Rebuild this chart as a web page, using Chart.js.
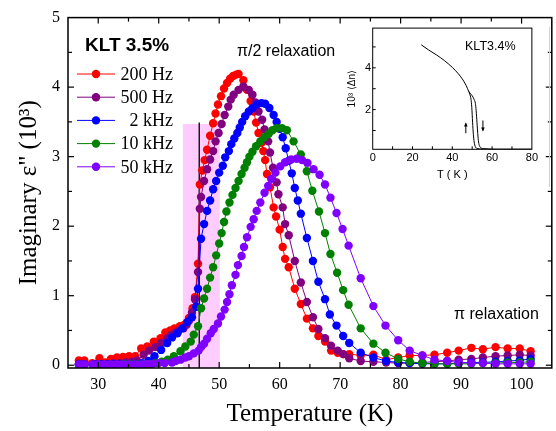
<!DOCTYPE html>
<html lang="en">
<head>
<meta charset="UTF-8" />
<title>KLT 3.5% dielectric loss</title>
<script src="https://cdn.jsdelivr.net/npm/chart.js"></script>
<style>
  body { margin: 0; background: #fff; }
  #wrap { position: relative; width: 556px; height: 431px; }
  #mainChart { position: absolute; left: 0; top: 0; }
  #insetChart { position: absolute; left: 340px; top: 20px; }
</style>
</head>
<body>
<div id="wrap">
  <canvas id="mainChart" width="556" height="431"></canvas>
  <canvas id="insetChart" width="200" height="165"></canvas>
</div>
<script>
  // ---- main panel: imaginary permittivity vs temperature ----
  const freqLabels = ['200 Hz', '500 Hz', '2 kHz', '10 kHz', '50 kHz'];
  const xTicks = [30, 40, 50, 60, 70, 80, 90, 100];
  const yTicks = [0, 1, 2, 3, 4, 5];

  const t200 = [26.8, 27.7, 29.0, 30.2, 31.2, 32.1, 33.1, 34.1, 35.1, 36.1,
                37.1, 38.1, 39.2, 40.3, 41.1, 41.9, 42.6, 43.5, 44.2, 45.0,
                45.6, 46.0, 46.5, 46.8, 47.2, 47.6, 48.0, 48.5, 49.0, 49.4,
                49.8, 50.3, 50.8, 51.3, 51.8, 52.3, 52.8, 53.2, 54.0, 54.6,
                55.2, 55.7, 56.1, 56.5, 57.0, 57.3, 57.6, 57.9, 58.4, 59.0,
                59.4, 60.0, 60.5, 60.9, 61.5, 62.5, 63.5, 64.5, 65.5, 66.4,
                67.5, 68.5, 69.6, 70.5, 71.5, 73.4, 75.5, 77.6, 79.6, 81.5,
                83.6, 85.6, 87.7, 89.6, 91.7, 93.6, 95.7, 97.7, 99.7, 101.5];
  const e200 = [0.07, 0.07, 0.03, 0.10, 0.04, 0.09, 0.11, 0.12, 0.13, 0.13,
                0.24, 0.27, 0.34, 0.39, 0.47, 0.50, 0.53, 0.56, 0.58, 0.68,
                0.82, 0.98, 1.46, 2.60, 2.80, 2.95, 3.10, 3.30, 3.48, 3.62,
                3.75, 3.87, 3.98, 4.06, 4.12, 4.16, 4.18, 4.19, 4.10, 3.96,
                3.80, 3.65, 3.49, 3.34, 3.20, 3.08, 2.95, 2.75, 2.56, 2.27,
                2.14, 1.95, 1.70, 1.53, 1.41, 1.10, 0.88, 0.67, 0.53, 0.42,
                0.34, 0.21, 0.18, 0.16, 0.16, 0.14, 0.15, 0.08, 0.11, 0.14,
                0.14, 0.15, 0.18, 0.21, 0.25, 0.23, 0.26, 0.24, 0.24, 0.20];

  const t500 = [26.8, 27.7, 29.5, 30.5, 31.5, 32.5, 33.5, 34.5, 35.5, 36.4,
                37.5, 38.4, 39.4, 40.4, 41.4, 42.0, 42.6, 43.2, 44.1, 44.6,
                45.0, 45.5, 46.0, 46.5, 46.8, 47.0, 47.5, 48.0, 48.5, 49.0,
                49.4, 49.9, 50.4, 50.9, 51.5, 51.9, 52.4, 53.2, 54.0, 54.9,
                55.5, 56.0, 56.5, 57.1, 57.5, 58.1, 58.4, 58.9, 59.5, 59.8,
                60.5, 60.9, 61.5, 62.5, 63.5, 64.5, 65.5, 66.4, 67.5, 68.5,
                69.6, 70.5, 71.5, 73.4, 75.5, 77.6, 79.6, 81.5, 83.6, 85.6,
                87.7, 89.6, 91.7, 93.6, 95.7, 97.7, 99.7, 101.5];
  const e500 = [0.02, 0.02, 0.02, 0.02, 0.02, 0.03, 0.03, 0.04, 0.05, 0.07,
                0.15, 0.21, 0.26, 0.32, 0.39, 0.43, 0.46, 0.49, 0.53, 0.58,
                0.64, 0.76, 0.95, 1.34, 2.25, 2.42, 2.65, 2.82, 2.96, 3.08,
                3.22, 3.34, 3.47, 3.60, 3.72, 3.82, 3.89, 3.96, 4.01, 3.96,
                3.89, 3.78, 3.65, 3.53, 3.39, 3.22, 3.06, 2.84, 2.63, 2.46,
                2.27, 2.03, 1.87, 1.50, 1.19, 0.91, 0.69, 0.52, 0.39, 0.28,
                0.21, 0.16, 0.10, 0.06, 0.05, 0.04, 0.03, 0.03, 0.04, 0.05,
                0.06, 0.08, 0.09, 0.11, 0.13, 0.14, 0.15, 0.14];

  const t2k = [26.8, 27.7, 29.5, 30.5, 31.5, 32.5, 33.5, 34.5, 35.5, 36.5,
               37.3, 38.3, 39.3, 40.4, 41.4, 42.2, 43.1, 43.9, 44.7, 45.5,
               46.2, 46.5, 47.0, 47.5, 48.0, 48.5, 49.0, 49.5, 50.0, 50.6,
               51.0, 51.6, 52.0, 52.5, 53.0, 53.4, 53.8, 54.3, 54.9, 55.5,
               56.2, 57.0, 57.6, 58.3, 59.0, 59.5, 60.0, 60.5, 61.0, 61.5,
               62.0, 62.5, 63.0, 63.5, 64.5, 65.5, 66.4, 67.5, 68.3, 69.4,
               70.5, 71.5, 73.4, 75.5, 77.6, 79.6, 81.5, 83.6, 85.6, 87.7,
               89.6, 91.7, 93.6, 95.7, 97.7, 99.7, 101.5];
  const e2k = [0.01, 0.01, 0.01, 0.01, 0.01, 0.01, 0.01, 0.01, 0.01, 0.02,
               0.03, 0.06, 0.13, 0.22, 0.32, 0.40, 0.46, 0.53, 0.62, 0.69,
               0.84, 1.10, 1.82, 2.03, 2.22, 2.37, 2.53, 2.65, 2.77, 2.87,
               2.99, 3.08, 3.18, 3.26, 3.34, 3.42, 3.50, 3.58, 3.65, 3.70,
               3.75, 3.77, 3.76, 3.70, 3.60, 3.50, 3.40, 3.28, 3.12, 2.94,
               2.76, 2.55, 2.37, 2.18, 1.83, 1.50, 1.20, 0.95, 0.73, 0.57,
               0.42, 0.32, 0.18, 0.11, 0.06, 0.04, 0.03, 0.02, 0.02, 0.02,
               0.03, 0.04, 0.04, 0.05, 0.06, 0.07, 0.09];

  const t10k = [26.8, 27.7, 29.5, 30.5, 31.5, 32.5, 33.5, 34.5, 35.5, 36.5,
                37.5, 38.5, 39.5, 40.5, 41.5, 42.5, 43.6, 44.4, 45.3, 45.8,
                46.5, 47.0, 47.5, 48.0, 48.5, 49.0, 49.5, 50.0, 50.4, 50.8,
                51.2, 51.7, 52.2, 52.7, 53.2, 53.7, 54.2, 54.6, 55.0, 55.5,
                56.1, 56.8, 57.5, 58.2, 58.8, 59.5, 60.4, 61.2, 62.3, 63.5,
                64.5, 65.4, 66.5, 67.5, 68.4, 69.5, 70.5, 71.4, 73.4, 75.5,
                77.5, 79.6, 81.5, 83.6, 85.6, 87.7, 89.6, 91.7, 93.6, 95.7,
                97.7, 99.7, 101.5];
  const e10k = [0.00, 0.00, 0.00, 0.00, 0.00, 0.00, 0.00, 0.01, 0.01, 0.01,
                0.01, 0.02, 0.03, 0.05, 0.08, 0.13, 0.20, 0.27, 0.34, 0.44,
                0.56, 0.82, 0.96, 1.10, 1.26, 1.41, 1.58, 1.75, 1.90, 2.06,
                2.21, 2.34, 2.45, 2.55, 2.65, 2.75, 2.84, 2.92, 3.00, 3.07,
                3.15, 3.22, 3.28, 3.33, 3.38, 3.41, 3.41, 3.38, 3.22, 3.03,
                2.79, 2.51, 2.21, 1.90, 1.60, 1.33, 1.08, 0.87, 0.53, 0.31,
                0.18, 0.09, 0.05, 0.03, 0.02, 0.02, 0.02, 0.02, 0.03, 0.03,
                0.04, 0.04, 0.05];

  const t50k = [26.8, 27.7, 29.0, 30.0, 31.0, 32.0, 33.0, 34.0, 35.0, 36.0,
                37.0, 38.0, 39.0, 40.0, 41.0, 42.2, 42.8, 43.6, 44.4, 45.0,
                45.8, 46.6, 47.0, 47.5, 48.0, 48.6, 49.1, 49.8, 50.3, 50.9,
                51.3, 51.7, 52.1, 52.7, 53.1, 53.7, 54.1, 54.6, 55.2, 55.7,
                56.2, 56.8, 57.5, 58.1, 58.6, 59.3, 60.1, 60.9, 61.9, 62.8,
                63.7, 64.6, 65.6, 66.6, 67.5, 68.4, 69.4, 70.4, 71.4, 73.4,
                75.5, 77.5, 79.6, 81.5, 83.6, 85.6, 87.7, 89.6, 91.7, 93.6,
                95.7, 97.7, 99.7, 101.5];
  const e50k = [0.01, 0.01, 0.01, 0.01, 0.01, 0.01, 0.01, 0.01, 0.01, 0.01,
                0.01, 0.02, 0.02, 0.03, 0.03, 0.04, 0.06, 0.08, 0.11, 0.13,
                0.17, 0.21, 0.26, 0.31, 0.38, 0.46, 0.52, 0.60, 0.70, 0.80,
                0.91, 1.02, 1.15, 1.30, 1.44, 1.57, 1.70, 1.84, 1.99, 2.10,
                2.22, 2.34, 2.48, 2.58, 2.68, 2.77, 2.86, 2.92, 2.96, 2.97,
                2.95, 2.91, 2.82, 2.74, 2.60, 2.41, 2.19, 1.96, 1.72, 1.25,
                0.85, 0.57, 0.36, 0.21, 0.14, 0.08, 0.06, 0.04, 0.03, 0.03,
                0.02, 0.02, 0.02, 0.02];

  // ---- inset: birefringence of KLT3.4% ----
  const insetXTicks = [0, 20, 40, 60, 80];
  const insetYTicks = [2, 4];
  const tCool = [24.4, 28, 32, 36, 40, 43, 45, 47, 48.2, 48.8, 49.4, 49.8, 50.2, 50.6, 51.0, 51.6, 52.5, 55, 60, 70, 80];
  const nCool = [5.10, 4.86, 4.62, 4.35, 4.02, 3.72, 3.47, 3.15, 2.88, 2.74, 2.50, 2.10, 1.40, 0.80, 0.45, 0.22, 0.14, 0.11, 0.10, 0.10, 0.10];
  const tHeat = [48.2, 49.0, 50.0, 51.0, 51.6, 52.0, 52.4, 52.8, 53.2, 53.7, 54.4, 56, 58, 62, 80];
  const nHeat = [2.88, 2.78, 2.66, 2.48, 2.30, 1.95, 1.40, 0.85, 0.45, 0.26, 0.17, 0.13, 0.11, 0.10, 0.10];

  const colors = ['#ff0000', '#800080', '#0000ff', '#008000', '#8000ff'];
  const serif = "'Liberation Serif', 'Times New Roman', serif";
  const sans = "'Liberation Sans', Arial, sans-serif";

  const temps = [t200, t500, t2k, t10k, t50k];
  const eps = [e200, e500, e2k, e10k, e50k];

  const datasets = freqLabels.map((label, i) => ({
    label,
    data: temps[i].map((t, j) => ({ x: t, y: eps[i][j] })),
    borderColor: colors[i],
    backgroundColor: colors[i],
    borderWidth: 1,
    pointRadius: 4.2,
    pointBorderWidth: 0,
    showLine: true,
    order: freqLabels.length - i   // higher frequency drawn on top
  }));

  function seg(ctx, x0, y0, x1, y1) {
    ctx.beginPath(); ctx.moveTo(x0, y0); ctx.lineTo(x1, y1); ctx.stroke();
  }

  const mainDecor = {
    id: 'mainDecor',
    beforeDatasetsDraw(chart) {
      const { ctx, chartArea: a, scales: { x, y } } = chart;
      ctx.save();
      // shaded transition band
      const bx0 = x.getPixelForValue(44.0), bx1 = x.getPixelForValue(50.1);
      const by = y.getPixelForValue(3.47);
      ctx.fillStyle = '#ffccff';
      ctx.fillRect(bx0, by, bx1 - bx0, a.bottom - by);
      // vertical marker
      ctx.strokeStyle = '#000'; ctx.lineWidth = 1.3;
      const mx = x.getPixelForValue(46.7);
      seg(ctx, mx, a.bottom, mx, y.getPixelForValue(3.49));
      ctx.restore();
    },
    afterDraw(chart) {
      const { ctx, chartArea: a, scales: { x, y } } = chart;
      ctx.save();
      ctx.strokeStyle = '#000';
      ctx.lineWidth = 1.5;
      ctx.strokeRect(a.left, a.top, a.right - a.left, a.bottom - a.top);
      ctx.lineWidth = 1.2;
      for (let t = 30; t <= 100; t += 5) {
        const px = x.getPixelForValue(t), len = t % 10 === 0 ? 6 : 4;
        seg(ctx, px, a.bottom, px, a.bottom - len);
        seg(ctx, px, a.top, px, a.top + len);
      }
      for (let v = 0.5; v < 5; v += 0.5) {
        const py = y.getPixelForValue(v), len = v % 1 === 0 ? 6 : 4;
        seg(ctx, a.left, py, a.left + len, py);
        seg(ctx, a.right, py, a.right - len, py);
      }
      const p0 = y.getPixelForValue(0);
      seg(ctx, a.left, p0, a.left + 6, p0);
      seg(ctx, a.right, p0, a.right - 6, p0);

      // faint line at the right
      ctx.strokeStyle = '#cfcfe6'; ctx.lineWidth = 1;
      seg(ctx, 549.5, 27, 549.5, 187);

      // legend
      ctx.fillStyle = '#000';
      ctx.font = 'bold 19px ' + sans;
      ctx.textAlign = 'left'; ctx.textBaseline = 'middle';
      ctx.fillText('KLT 3.5%', 85, 46);
      ctx.font = '18px ' + serif;
      ctx.textAlign = 'right';
      freqLabels.forEach((lab, i) => {
        const ry = 74 + i * 23.2;
        ctx.strokeStyle = colors[i]; ctx.lineWidth = 1;
        seg(ctx, 77, ry, 115, ry);
        ctx.fillStyle = colors[i];
        ctx.beginPath(); ctx.arc(96, ry, 4.2, 0, Math.PI * 2); ctx.fill();
        ctx.fillStyle = '#000';
        ctx.fillText(lab, 173, ry + 1);
      });

      // annotations
      ctx.font = '16px ' + sans;
      ctx.textAlign = 'left';
      ctx.fillText('\u03c0/2 relaxation', 237, 52);
      ctx.fillText('\u03c0 relaxation', 454, 315);
      ctx.restore();
    }
  };

  new Chart(document.getElementById('mainChart'), {
    type: 'scatter',
    data: { datasets },
    options: {
      responsive: false,
      animation: false,
      events: [],
      layout: { padding: { top: 15, right: 1, left: 0, bottom: 0 } },
      plugins: { legend: { display: false }, tooltip: { enabled: false } },
      scales: {
        x: {
          type: 'linear', min: 25, max: 105,
          grid: { display: false, drawTicks: false },
          border: { display: false },
          afterBuildTicks: s => { s.ticks = xTicks.map(v => ({ value: v })); },
          afterFit: s => { s.height = 63; },
          ticks: { color: '#000', padding: 7, font: { family: serif, size: 16 } },
          title: {
            display: true, text: 'Temperature (K)', color: '#000',
            font: { family: serif, size: 25 }, padding: { top: 0, bottom: 2 }
          }
        },
        y: {
          type: 'linear', min: -0.04, max: 5,
          grid: { display: false, drawTicks: false },
          border: { display: false },
          afterBuildTicks: s => { s.ticks = yTicks.map(v => ({ value: v })); },
          afterFit: s => { s.width = 68; },
          ticks: { color: '#000', padding: 8, font: { family: serif, size: 16 } },
          title: {
            display: true, text: 'Imaginary \u03b5" (10\u00b3)', color: '#000',
            font: { family: serif, size: 25 }, padding: { top: 14, bottom: 0 }
          }
        }
      }
    },
    plugins: [mainDecor]
  });

  const insetDecor = {
    id: 'insetDecor',
    beforeDatasetsDraw(chart) {
      const { ctx, chartArea: a } = chart;
      ctx.save();
      ctx.fillStyle = '#fff';
      ctx.fillRect(a.left, a.top, a.right - a.left, a.bottom - a.top);
      ctx.restore();
    },
    afterDraw(chart) {
      const { ctx, chartArea: a, scales: { x, y } } = chart;
      ctx.save();
      ctx.strokeStyle = '#000'; ctx.lineWidth = 1;
      ctx.strokeRect(a.left, a.top, a.right - a.left, a.bottom - a.top);
      for (let t = 10; t < 80; t += 10) {
        const px = x.getPixelForValue(t);
        seg(ctx, px, a.bottom, px, a.bottom - 3);
      }
      for (let v = 1; v <= 5; v += 1) {
        const py = y.getPixelForValue(v);
        seg(ctx, a.left, py, a.left + 3, py);
      }
      // hysteresis arrows
      const ux = x.getPixelForValue(46.8), uy0 = y.getPixelForValue(0.87), uy1 = y.getPixelForValue(1.34);
      seg(ctx, ux, uy0, ux, uy1);
      ctx.fillStyle = '#000';
      ctx.beginPath(); ctx.moveTo(ux, uy1 - 1); ctx.lineTo(ux - 1.8, uy1 + 3); ctx.lineTo(ux + 1.8, uy1 + 3); ctx.fill();
      const dx = x.getPixelForValue(55.4), dy0 = y.getPixelForValue(1.48), dy1 = y.getPixelForValue(1.0);
      seg(ctx, dx, dy0, dx, dy1);
      ctx.beginPath(); ctx.moveTo(dx, dy1 + 1); ctx.lineTo(dx - 1.8, dy1 - 3); ctx.lineTo(dx + 1.8, dy1 - 3); ctx.fill();
      ctx.font = '12.5px ' + sans;
      ctx.textAlign = 'left'; ctx.textBaseline = 'middle';
      ctx.fillText('KLT3.4%', x.getPixelForValue(46.4), y.getPixelForValue(5.03));
      ctx.restore();
    }
  };

  const insetLine = { borderColor: '#000', borderWidth: 1, pointRadius: 0, showLine: true, cubicInterpolationMode: 'monotone' };

  new Chart(document.getElementById('insetChart'), {
    type: 'scatter',
    data: {
      datasets: [
        Object.assign({ label: 'cooling', data: tCool.map((t, j) => ({ x: t, y: nCool[j] })) }, insetLine),
        Object.assign({ label: 'heating', data: tHeat.map((t, j) => ({ x: t, y: nHeat[j] })) }, insetLine)
      ]
    },
    options: {
      responsive: false,
      animation: false,
      events: [],
      layout: { padding: { top: 6.7, right: 6.7, left: 0, bottom: 0 } },
      plugins: { legend: { display: false }, tooltip: { enabled: false } },
      scales: {
        x: {
          type: 'linear', min: 0, max: 80,
          grid: { display: false, drawTicks: false },
          border: { display: false },
          afterBuildTicks: s => { s.ticks = insetXTicks.map(v => ({ value: v })); },
          afterFit: s => { s.height = 35.7; },
          ticks: { color: '#000', padding: 2, font: { family: sans, size: 11 } },
          title: {
            display: true, text: 'T ( K )', color: '#000',
            font: { family: sans, size: 11 }, padding: { top: 0, bottom: 3.4 }
          }
        },
        y: {
          type: 'linear', min: 0.1, max: 5.9,
          grid: { display: false, drawTicks: false },
          border: { display: false },
          afterBuildTicks: s => { s.ticks = insetYTicks.map(v => ({ value: v })); },
          afterFit: s => { s.width = 32.7; },
          ticks: { color: '#000', padding: 1.5, font: { family: sans, size: 11 } },
          title: {
            display: true, text: '10\u00b3 \u27e8\u0394n\u27e9', color: '#000',
            font: { family: sans, size: 10 }, padding: { top: 6.7, bottom: 0 }
          }
        }
      }
    },
    plugins: [insetDecor]
  });
</script>
</body>
</html>
